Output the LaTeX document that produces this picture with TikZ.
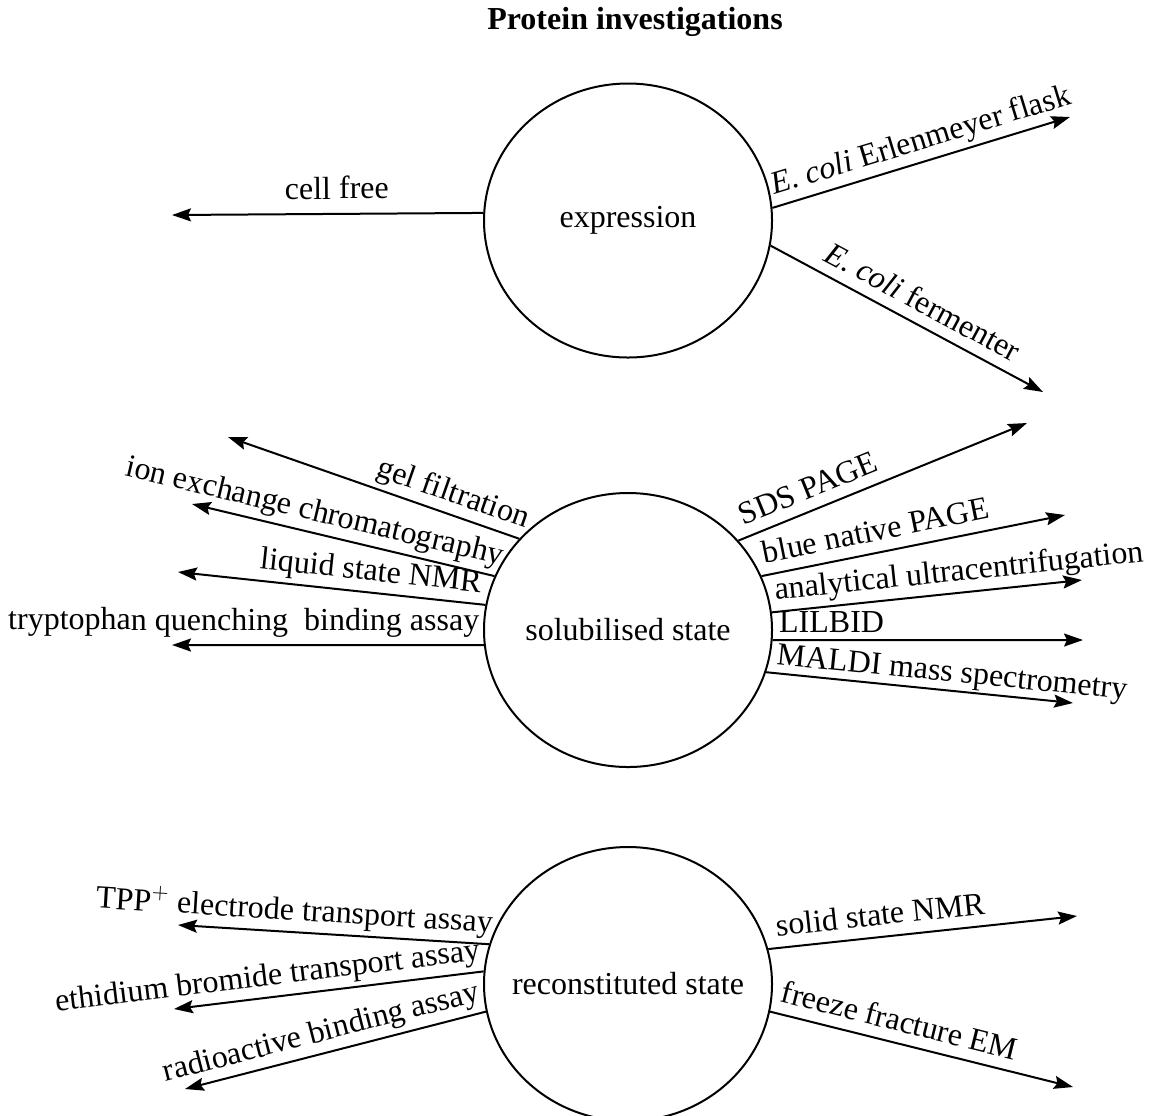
\documentclass[tikz,border=0pt]{standalone}
\usepackage{fontspec}
\setmainfont{Liberation Serif}
\usetikzlibrary{shapes,arrows}
\usetikzlibrary{arrows.meta}

\begin{document}
\begin{tikzpicture}[x=0.5pt, y=-0.5pt]
\tikzstyle{bigfont}=[font=\fontsize{16}{19}\selectfont]
\tikzstyle{stage}=[ellipse, draw=black, line width=1pt, minimum width=144pt, minimum height=137pt, inner sep=0pt]
\tikzstyle{method}=[draw=black, line width=1pt, -{Stealth[length=9.5pt, width=6.5pt, inset=1.5pt]}]
\tikzstyle{methodlabel}=[sloped, above, inner xsep=0pt, inner ysep=2pt, text depth=3.5pt, bigfont]

\useasboundingbox (0,0) rectangle (1154,1115);

\node[font=\fontsize{16}{19}\selectfont\bfseries] (title) at (635, 22) {Protein investigations};

% The three states
\node[stage, label={[bigfont]center:expression}] (expr) at (628, 220.5) {};
\node[stage, label={[bigfont]center:solubilised state}] (sol) at (628, 630) {};
\node[stage, label={[bigfont]center:reconstituted state}] (recon) at (628, 984) {};

% Arrow ends
\coordinate (cellfree-end) at (172, 215);
\coordinate (erlen-end) at (1070, 117);
\coordinate (ferm-end) at (1043, 392);

\coordinate (gel-end) at (228, 437);
\coordinate (ion-end) at (192, 504);
\coordinate (liquid-end) at (178, 572);
\coordinate (trypt-end) at (172, 645);
\coordinate (sds-end) at (1027, 423);
\coordinate (blue-end) at (1065, 515);
\coordinate (ultra-end) at (1082, 580);
\coordinate (lilbid-end) at (1083, 640);
\coordinate (maldi-end) at (1073, 703);

\coordinate (tpp-end) at (178, 925);
\coordinate (ethid-end) at (174, 1009);
\coordinate (radio-end) at (185, 1089);
\coordinate (solid-end) at (1077, 916);
\coordinate (freeze-end) at (1073, 1087);

% Expression
\path[method] (expr.177.8) -- (cellfree-end) node[methodlabel, pos=0.47, yshift=1.5pt] {cell free};
\path[method] (expr.5.4) -- (erlen-end) node[methodlabel, pos=0.52] {\textit{E. coli} Erlenmeyer flask};
\path[method] (expr.-10.5) -- (ferm-end) node[methodlabel, pos=0.52] {\textit{E. coli} fermenter};

% Solubilised state
\path[method] (sol.140.1) -- (gel-end) node[methodlabel, pos=0.25] {gel filtration};
\path[method] (sol.158.6) -- (ion-end) node[methodlabel, pos=0.61] {ion exchange chromatography};
\path[method] (sol.170.9) -- (liquid-end) node[methodlabel, pos=0.38] {liquid state NMR};
\path[method] (sol.186) -- (trypt-end) node[methodlabel, pos=0.77, yshift=1.5pt] {tryptophan quenching\ \ binding assay};
\path[method] (sol.39.9) -- (sds-end) node[methodlabel, pos=0.27] {SDS PAGE};
\path[method] (sol.22) -- (blue-end) node[methodlabel, pos=0.39] {blue native PAGE};
\path[method] (sol.7.9) -- (ultra-end) node[methodlabel, pos=0.61] {analytical ultracentrifugation};
\path[method] (sol.-4) -- (lilbid-end) node[methodlabel, pos=0.19, yshift=-2pt] {LILBID};
\path[method] (sol.-17.9) -- (maldi-end) node[methodlabel, pos=0.6, yshift=-1.5pt] {MALDI mass spectrometry};

% Reconstituted state
\path[method] (recon.164.4) -- (tpp-end) node[methodlabel, pos=0.63] {TPP$^+$ electrode transport assay};
\path[method] (recon.175.2) -- (ethid-end) node[methodlabel, pos=0.69] {ethidium bromide transport assay};
\path[method] (recon.191.5) -- (radio-end) node[methodlabel, pos=0.53] {radioactive binding assay};
\path[method] (recon.14.4) -- (solid-end) node[methodlabel, pos=0.37] {solid state NMR};
\path[method] (recon.-11.2) -- (freeze-end) node[methodlabel, pos=0.41] {freeze fracture EM};
\end{tikzpicture}
\end{document}
